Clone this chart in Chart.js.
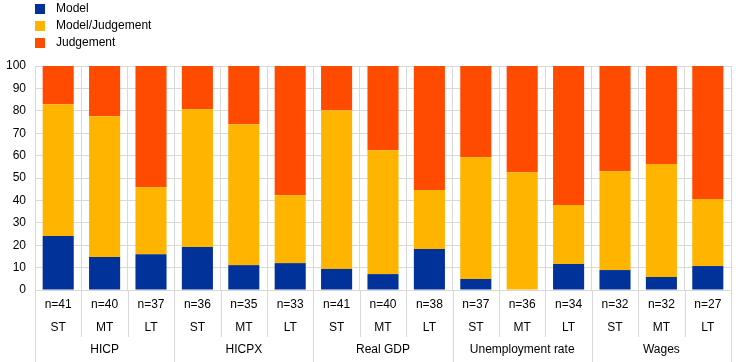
<!DOCTYPE html>
<html>
<head>
<meta charset="utf-8">
<script src="https://cdn.jsdelivr.net/npm/chart.js@4/dist/chart.umd.min.js"></script>
<style>
  html, body { margin: 0; padding: 0; background: #fff; }
  #wrap { width: 744px; height: 362px; position: relative; }
</style>
</head>
<body>
<div id="wrap"><canvas id="chart" width="744" height="362"></canvas></div>
<script>
// Data
const groups = ["HICP", "HICPX", "Real GDP", "Unemployment rate", "Wages"];
const horizons = ["ST", "MT", "LT"];
const sampleSizes = [41, 40, 37, 36, 35, 33, 41, 40, 38, 37, 36, 34, 32, 32, 27];
const model = [24.1, 14.7, 16.0, 19.2, 11.1, 12.0, 9.4, 7.1, 18.3, 4.9, 0, 11.6, 8.9, 5.8, 10.7];
const modelJudgement = [58.8, 62.9, 29.9, 61.5, 62.9, 30.3, 70.8, 55.3, 26.3, 54.4, 52.6, 26.3, 44.1, 50.4, 29.9];
const judgement = [17.1, 22.4, 54.1, 19.3, 26.0, 57.7, 19.8, 37.6, 55.4, 40.7, 47.4, 62.1, 47.0, 43.8, 59.4];
const yTicks = [0, 10, 20, 30, 40, 50, 60, 70, 80, 90, 100];

const COLORS = { model: "#003299", mixed: "#FFB400", judgement: "#FF4B00", grid: "#d9d9d9" };
const FONT = "12px 'Liberation Sans', Arial, sans-serif";

// one label per bar, e.g. "HICP ST"
const labels = [];
groups.forEach((g) => horizons.forEach((h) => labels.push(g + " " + h)));

// Draws legend, the 3 rows of x labels and their separators
const extras = {
  id: "extras",
  afterDraw(chart) {
    const { ctx, chartArea, scales } = chart;
    const x = scales.x;
    const bottom = chart.height;
    ctx.save();

    // legend
    ctx.font = FONT;
    ctx.textBaseline = "middle";
    ctx.textAlign = "left";
    chart.data.datasets.forEach((ds, i) => {
      const cy = 9 + i * 17;
      ctx.fillStyle = ds.backgroundColor;
      ctx.fillRect(35, cy - 5, 10, 10);
      ctx.fillStyle = "#000";
      ctx.fillText(ds.label, 56, cy);
    });

    // separators below the axis
    ctx.strokeStyle = COLORS.grid;
    ctx.lineWidth = 1;
    const step = x.getPixelForValue(1) - x.getPixelForValue(0);
    for (let i = 0; i <= labels.length; i++) {
      const px = Math.round(x.getPixelForValue(i) - step / 2) + 0.5;
      const isGroup = i % horizons.length === 0;
      ctx.beginPath();
      ctx.moveTo(px, chartArea.bottom);
      ctx.lineTo(px, isGroup ? bottom : chartArea.bottom + 47);
      ctx.stroke();
    }

    // n= and horizon rows
    ctx.fillStyle = "#000";
    ctx.textAlign = "center";
    labels.forEach((_, i) => {
      const px = x.getPixelForValue(i);
      ctx.fillText("n=" + sampleSizes[i], px, chartArea.bottom + 15);
      ctx.fillText(horizons[i % horizons.length], px, chartArea.bottom + 38);
    });

    // group row
    groups.forEach((g, gi) => {
      const first = x.getPixelForValue(gi * horizons.length);
      const last = x.getPixelForValue(gi * horizons.length + horizons.length - 1);
      ctx.fillText(g, (first + last) / 2, chartArea.bottom + 60);
    });
    ctx.restore();
  },
};

new Chart(document.getElementById("chart"), {
  type: "bar",
  data: {
    labels,
    datasets: [
      { label: "Model", data: model, backgroundColor: COLORS.model },
      { label: "Model/Judgement", data: modelJudgement, backgroundColor: COLORS.mixed },
      { label: "Judgement", data: judgement, backgroundColor: COLORS.judgement },
    ],
  },
  options: {
    responsive: false,
    animation: false,
    layout: { padding: { top: 66, right: 13, left: 0, bottom: 0 } },
    datasets: { bar: { barPercentage: 0.67, categoryPercentage: 1, borderWidth: 0 } },
    plugins: { legend: { display: false }, tooltip: { enabled: false } },
    scales: {
      x: {
        stacked: true,
        grid: { color: COLORS.grid, offset: true, drawTicks: false },
        border: { color: COLORS.grid },
        ticks: { display: false },
        afterFit: (s) => { s.height = 72; },
      },
      y: {
        stacked: true,
        min: 0,
        max: 100,
        afterBuildTicks: (s) => { s.ticks = yTicks.map((v) => ({ value: v })); },
        grid: { color: COLORS.grid, drawTicks: false },
        border: { display: false },
        ticks: { color: "#000", font: { family: "'Liberation Sans', Arial, sans-serif", size: 12 }, padding: 9 },
        afterFit: (s) => { s.width = 35; },
      },
    },
  },
  plugins: [extras],
});
</script>
</body>
</html>
